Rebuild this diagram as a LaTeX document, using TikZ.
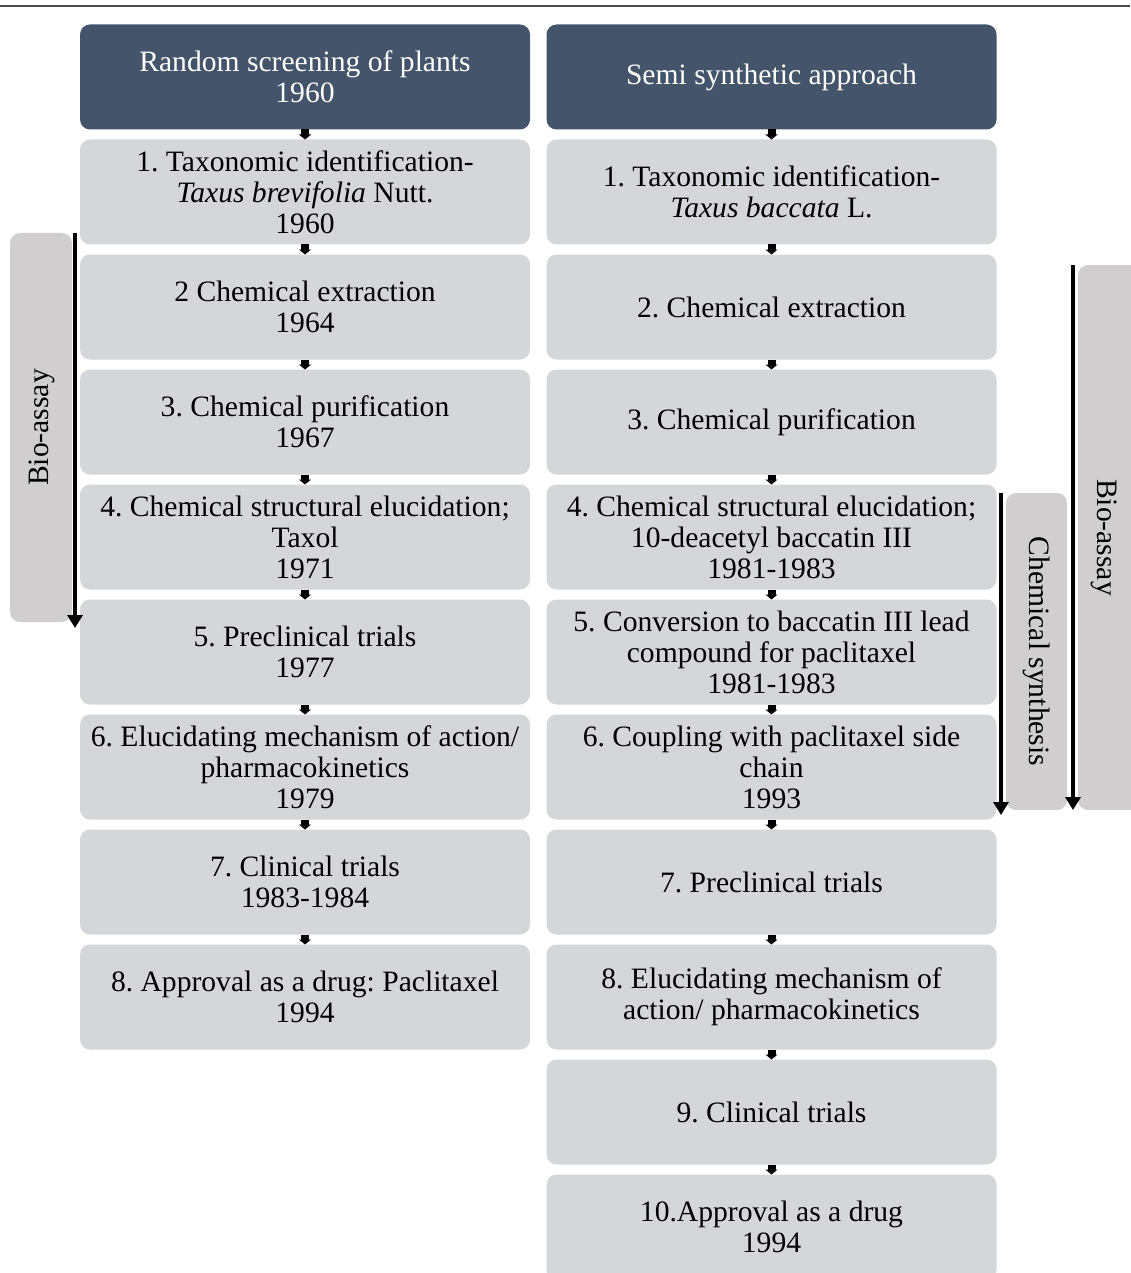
\documentclass[tikz,border=0pt]{standalone}
\usepackage{fontspec}
\setmainfont{Liberation Serif}
\usetikzlibrary{positioning,arrows.meta}
\definecolor{headblue}{HTML}{44546A}
\definecolor{boxgray}{HTML}{D5D6D9}
\definecolor{bargray}{HTML}{D0CECE}
\frenchspacing

\begin{document}
\begin{tikzpicture}[x=0.5pt, y=-0.5pt,
    box/.style={rectangle, rounded corners=5pt, fill=boxgray,
        minimum width=225pt, minimum height=52.5pt, inner sep=1pt,
        outer sep=0pt, align=center, font=\fontsize{14.8}{15.5}\selectfont},
    head/.style={box, fill=headblue, text=white},
    link/.style={-{Triangle[width=6pt,length=2.5pt]}, line width=4pt},
    sidearrow/.style={-{Triangle[width=7.5pt,length=6.5pt]}, line width=2pt},
    bar/.style={fill=bargray, rounded corners=5pt},
    barlabel/.style={font=\fontsize{14.8}{15.5}\selectfont}]
% two routes to paclitaxel, step by step

\useasboundingbox (0,0) rectangle (1130,1273);
\draw[gray!60!black, line width=0.7pt] (0,6) -- (1130,6);

% left: random screening
\node[head] (l0) at (305,77) {Random screening of plants\\1960};
\node[box, below=5pt of l0] (l1) {1. Taxonomic identification-\\\textit{Taxus brevifolia} Nutt.\\1960};
\node[box, below=5pt of l1] (l2) {2 Chemical extraction\\1964};
\node[box, below=5pt of l2] (l3) {3. Chemical purification\\1967};
\node[box, below=5pt of l3] (l4) {4. Chemical structural elucidation;\\Taxol\\1971};
\node[box, below=5pt of l4] (l5) {5. Preclinical trials\\1977};
\node[box, below=5pt of l5] (l6) {6. Elucidating mechanism of action/\\pharmacokinetics\\1979};
\node[box, below=5pt of l6] (l7) {7. Clinical trials\\1983-1984};
\node[box, below=5pt of l7] (l8) {8. Approval as a drug: Paclitaxel\\1994};

% right: semi synthetic
\node[head] (r0) at (771.5,77) {Semi synthetic approach};
\node[box, below=5pt of r0] (r1) {1. Taxonomic identification-\\\textit{Taxus baccata} L.};
\node[box, below=5pt of r1] (r2) {2. Chemical extraction};
\node[box, below=5pt of r2] (r3) {3. Chemical purification};
\node[box, below=5pt of r3] (r4) {4. Chemical structural elucidation;\\10-deacetyl baccatin III\\1981-1983};
\node[box, below=5pt of r4] (r5) {5. Conversion to baccatin III lead\\compound for paclitaxel\\1981-1983};
\node[box, below=5pt of r5] (r6) {6. Coupling with paclitaxel side\\chain\\1993};
\node[box, below=5pt of r6] (r7) {7. Preclinical trials};
\node[box, below=5pt of r7] (r8) {8. Elucidating mechanism of\\action/ pharmacokinetics};
\node[box, below=5pt of r8] (r9) {9. Clinical trials};
\node[box, below=5pt of r9] (r10) {10.Approval as a drug\\1994};

% small arrows between the steps
\draw[link] (l0.south) -- (l1.north);
\draw[link] (l1.south) -- (l2.north);
\draw[link] (l2.south) -- (l3.north);
\draw[link] (l3.south) -- (l4.north);
\draw[link] (l4.south) -- (l5.north);
\draw[link] (l5.south) -- (l6.north);
\draw[link] (l6.south) -- (l7.north);
\draw[link] (l7.south) -- (l8.north);
\draw[link] (r0.south) -- (r1.north);
\draw[link] (r1.south) -- (r2.north);
\draw[link] (r2.south) -- (r3.north);
\draw[link] (r3.south) -- (r4.north);
\draw[link] (r4.south) -- (r5.north);
\draw[link] (r5.south) -- (r6.north);
\draw[link] (r6.south) -- (r7.north);
\draw[link] (r7.south) -- (r8.north);
\draw[link] (r8.south) -- (r9.north);
\draw[link] (r9.south) -- (r10.north);

% side bars
\fill[bar] (10,233) rectangle (72,622);
\node[barlabel, rotate=90] (bioL) at (42,427.5) {Bio-assay};
\coordinate (bioLtop) at (75,233);
\coordinate (bioLend) at (75,628);
\draw[sidearrow] (bioLtop) -- (bioLend);

\fill[bar] (1006,493) rectangle (1067,810);
\node[barlabel, rotate=-90] (chem) at (1036.5,651.5) {Chemical synthesis};
\coordinate (chemtop) at (1001,493);
\coordinate (chemend) at (1001,815);
\draw[sidearrow] (chemtop) -- (chemend);

\fill[bar] (1078,265) rectangle (1145,810);
\node[barlabel, rotate=-90] (bioR) at (1104,537.5) {Bio-assay};
\coordinate (bioRtop) at (1073,265);
\coordinate (bioRend) at (1073,810);
\draw[sidearrow] (bioRtop) -- (bioRend);

\end{tikzpicture}
\end{document}
